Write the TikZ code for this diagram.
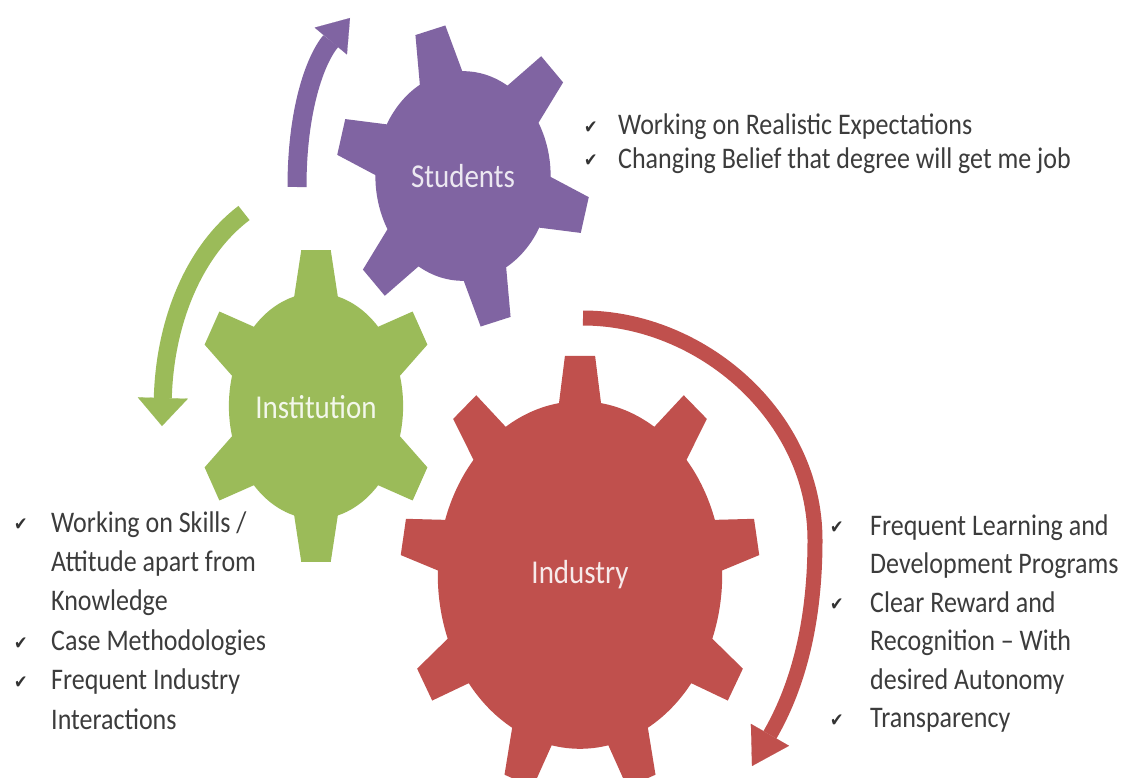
\documentclass[tikz,border=0pt]{standalone}
\usepackage{fontspec}
\setmainfont{Carlito}
\newfontfamily\checkfont{DejaVu Sans}
\usepackage{graphicx}
\usetikzlibrary{arrows.meta}
\definecolor{gearpurple}{HTML}{8064A2}
\definecolor{geargreen}{HTML}{9BBB59}
\definecolor{gearred}{HTML}{C0504D}
\definecolor{listgray}{HTML}{3C3C3C}
\newcommand{\stretchy}[1]{\scalebox{1}[1.15]{#1}}
\newcommand{\ck}[1]{\makebox[#1][l]{\checkfont\fontsize{16}{16}\selectfont\color{black!80}\raisebox{1pt}{✔}}}
% color, teeth, root radius, base half angle, tip half angle, first tooth
\newcommand{\cogwheel}[6]{%
  \fill[#1] ({#6-#4}:#3) \foreach \k [evaluate=\k as \ang using {#6+360*(\k-1)/#2}] in {1,...,#2} {
    -- ({\ang-#4}:#3) -- ({\ang-#5}:1) -- ({\ang+#5}:1) -- ({\ang+#4}:#3)
    arc[start angle={\ang+#4}, end angle={\ang+360/#2-#4}, radius=#3]} -- cycle;}

\begin{document}
\begin{tikzpicture}[x=1pt,y=1pt,
  gearlabel/.style={inner sep=0pt,anchor=base,font=\fontsize{29}{32}\selectfont},
  listtext/.style={inner sep=0pt,anchor=base west,text=listgray},
  bendarrow/.style={line width=#1,line cap=butt}]
	\fill[white] (0,0) rectangle (1126,-778);
	\useasboundingbox (0,0) rectangle (1126,-778);
	\clip (0,0) rectangle (1126,-778);
	\begin{scope}[shift={(463,-176)},xscale=127,yscale=152]
		\cogwheel{gearpurple}{6}{0.69}{14.5}{7}{105}
	\end{scope}
	\begin{scope}[shift={(316,-406)},xscale=121,yscale=157]
		\cogwheel{geargreen}{6}{0.72}{14.5}{7}{90}
	\end{scope}
	\begin{scope}[shift={(580,-575)},xscale=180,yscale=220]
		\cogwheel{gearred}{9}{0.79}{8.5}{4.8}{90}
	\end{scope}
	\draw (463,-187) node(students) [gearlabel,text=gearpurple!15] {\stretchy{Students}};
	\draw (316,-418) node(institution) [gearlabel,text=geargreen!12] {\stretchy{Institution}};
	\draw (580,-583) node(industry) [gearlabel,text=gearred!12] {\stretchy{Industry}};
	\coordinate (s1) at (297,-187);
	\coordinate (s2) at (350,-18);
	\coordinate (i1) at (244,-213);
	\coordinate (i2) at (162,-426);
	\coordinate (r1) at (583,-318);
	\coordinate (r2) at (815,-540);
	\coordinate (r3) at (752,-766);
	\path[draw=gearpurple,bendarrow=19pt,-{Triangle[width=42pt,length=30pt,line width=0.1pt]}] (s1) .. controls (297,-110) and (315,-60) .. (s2);
	\path[draw=geargreen,bendarrow=18pt,-{Triangle[width=50pt,length=28pt,line width=0.1pt]}] (i1) .. controls (195,-250) and (165,-320) .. (i2);
	\path[draw=gearred,bendarrow=15pt,-{Triangle[width=44pt,length=36pt,line width=0.1pt]}] (r1) .. controls (700,-318) and (815,-415) .. (r2) .. controls (815,-640) and (790,-700) .. (r3);
	\draw (584,-135) node(stulist) [listtext,font=\fontsize{26}{28.7}\selectfont] {\stretchy{\begin{tabular}[t]{@{}l@{}}
		\ck{34pt}Working on Realistic Expectations\\
		\ck{34pt}Changing Belief that degree will get me job
	\end{tabular}}};
	\draw (14,-532) node(instlist) [listtext,font=\fontsize{26}{34.3}\selectfont] {\stretchy{\begin{tabular}[t]{@{}l@{}}
		\ck{37pt}Working on Skills /\\
		\hspace*{37pt}Attitude apart from\\
		\hspace*{37pt}Knowledge\\
		\ck{37pt}Case Methodologies\\
		\ck{37pt}Frequent Industry\\
		\hspace*{37pt}Interactions
	\end{tabular}}};
	\draw (830,-535) node(indlist) [listtext,font=\fontsize{26}{33.5}\selectfont] {\stretchy{\begin{tabular}[t]{@{}l@{}}
		\ck{40pt}Frequent Learning and\\
		\hspace*{40pt}Development Programs\\
		\ck{40pt}Clear Reward and\\
		\hspace*{40pt}Recognition – With\\
		\hspace*{40pt}desired Autonomy\\
		\ck{40pt}Transparency
	\end{tabular}}};
\end{tikzpicture}
\end{document}
